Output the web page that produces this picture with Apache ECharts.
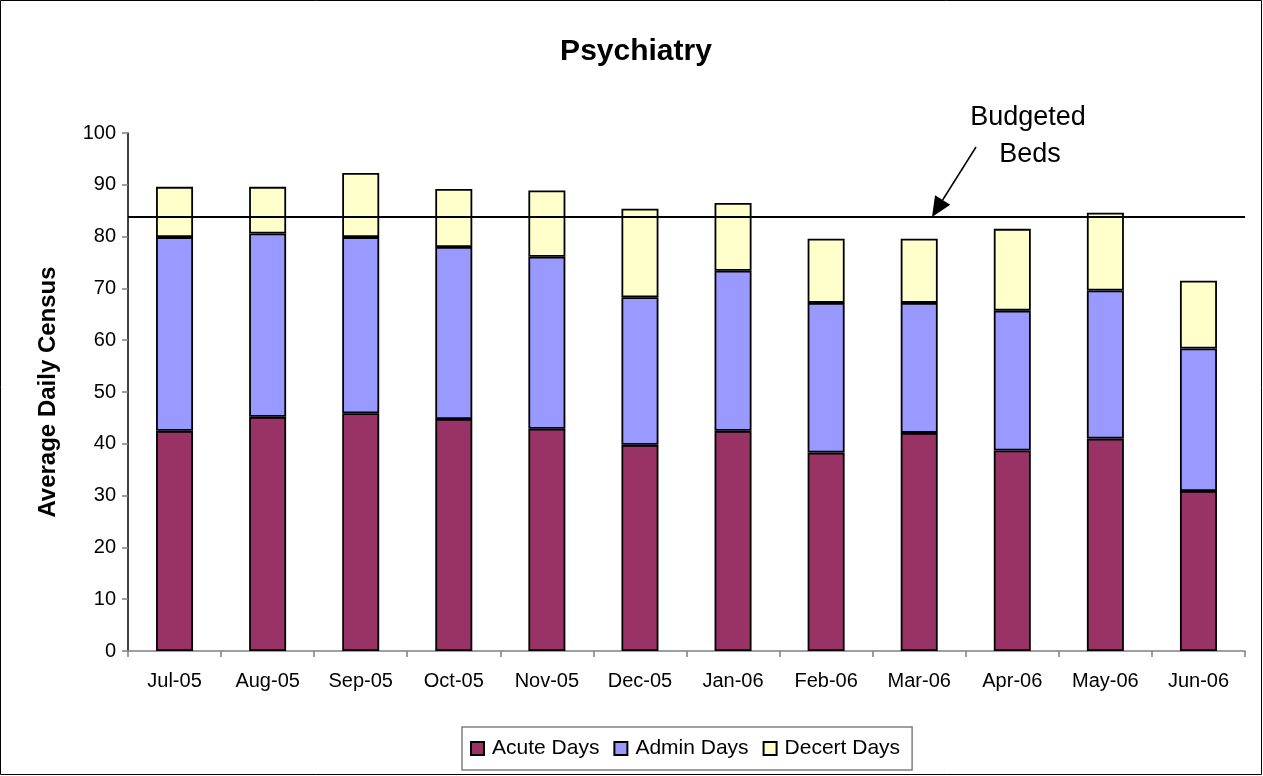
<!DOCTYPE html>
<html>
<head>
<meta charset="utf-8">
<script src="https://cdn.jsdelivr.net/npm/echarts@6/dist/echarts.min.js"></script>
<style>
html,body{margin:0;padding:0;background:#fff;}
#main{width:1263px;height:776px;}
</style>
</head>
<body>
<div id="main"></div>
<script>
const categories = ['Jul-05','Aug-05','Sep-05','Oct-05','Nov-05','Dec-05','Jan-06','Feb-06','Mar-06','Apr-06','May-06','Jun-06'];
const acuteDays  = [42.5, 45.2, 45.9, 44.8, 42.9, 39.8, 42.5, 38.3, 42.1, 38.7, 41.0, 30.9];
const adminDays  = [37.4, 35.4, 34.0, 33.2, 33.2, 28.5, 30.9, 28.9, 25.1, 27.0, 28.6, 27.5];
const decertDays = [ 9.7,  9.0, 12.4, 11.2, 12.8, 17.1, 13.1, 12.4, 12.4, 15.8, 15.0, 13.1];
const budgetedBeds = 83.8;
const seriesNames = ['Acute Days','Admin Days','Decert Days'];
const yTicks = {min: 0, max: 100, interval: 10};

const FONT = 'Liberation Sans, Arial, sans-serif';
const chart = echarts.init(document.getElementById('main'));

function barSeries(name, data, color) {
  return {
    name: name, type: 'bar', stack: 'total', data: data, barWidth: 37,
    itemStyle: {color: color, borderColor: '#000', borderWidth: 1.8},
    emphasis: {disabled: true}
  };
}

const series = [
  barSeries(seriesNames[0], acuteDays, '#993366'),
  barSeries(seriesNames[1], adminDays, '#9999FF'),
  barSeries(seriesNames[2], decertDays, '#FFFFCC')
];
series[2].markLine = {
  silent: true, symbol: ['none', 'none'], animation: false,
  label: {show: false},
  lineStyle: {color: '#000', width: 2, type: 'solid'},
  emphasis: {disabled: true},
  data: [{yAxis: budgetedBeds}]
};

const option = {
  animation: false,
  backgroundColor: '#fff',
  title: {
    text: 'Psychiatry', left: 631, textAlign: 'center', top: 32,
    textStyle: {fontFamily: FONT, fontSize: 30, fontWeight: 'bold', color: '#000'}
  },
  legend: {
    data: seriesNames, left: 462, top: 727,
    padding: [11, 12, 11, 8], itemGap: 14, itemWidth: 13, itemHeight: 13,
    borderColor: '#808080', borderWidth: 1.5,
    icon: 'rect',
    textStyle: {fontFamily: FONT, fontSize: 21, color: '#000', padding: [0, 0, 0, 3]}
  },
  grid: {left: 128, right: 18, top: 133, bottom: 125, containLabel: false},
  xAxis: {
    type: 'category', data: categories, boundaryGap: true,
    axisLine: {lineStyle: {color: '#808080', width: 1.5}},
    axisTick: {show: true, alignWithLabel: false, length: 6, lineStyle: {color: '#808080', width: 1.5}},
    axisLabel: {fontFamily: FONT, fontSize: 20, color: '#000', margin: 20, interval: 0}
  },
  yAxis: {
    type: 'value', min: yTicks.min, max: yTicks.max, interval: yTicks.interval,
    name: 'Average Daily Census', nameLocation: 'middle', nameGap: 68, nameRotate: 90,
    nameTextStyle: {fontFamily: FONT, fontSize: 24, fontWeight: 'bold', color: '#000'},
    axisLine: {show: true, lineStyle: {color: '#000', width: 1.5}},
    axisTick: {show: true, length: 6, lineStyle: {color: '#808080', width: 1.5}},
    axisLabel: {fontFamily: FONT, fontSize: 20, color: '#000', margin: 12},
    splitLine: {show: false}
  },
  series: series
};
chart.setOption(option);

// Annotation arrow, tip placed on the budget line via the y scale
const by = chart.convertToPixel({yAxisIndex: 0}, budgetedBeds);
const tip = [932, by];
const tail = [976, 147];
const dx = tip[0] - tail[0], dy = tip[1] - tail[1];
const len = Math.sqrt(dx*dx + dy*dy);
const ux = dx/len, uy = dy/len;
const headLen = 20, headW = 9;
const bx = tip[0] - ux*headLen, byy = tip[1] - uy*headLen;
const p1 = [bx - uy*headW, byy + ux*headW];
const p2 = [bx + uy*headW, byy - ux*headW];

chart.setOption({
  graphic: [
    {type: 'rect', shape: {x: 0.5, y: 0.5, width: 1261, height: 774}, style: {fill: 'none', stroke: '#000', lineWidth: 1}, silent: true, z: 100},
    {type: 'line', shape: {x1: tail[0], y1: tail[1], x2: bx, y2: byy}, style: {stroke: '#000', lineWidth: 1.5}, silent: true, z: 100},
    {type: 'polygon', shape: {points: [tip, p1, p2]}, style: {fill: '#000'}, silent: true, z: 100},
    {type: 'text', x: 1028, y: 118, style: {text: 'Budgeted', fontFamily: FONT, fontSize: 27, fill: '#000', align: 'center', verticalAlign: 'middle'}, silent: true, z: 100},
    {type: 'text', x: 1030, y: 155, style: {text: 'Beds', fontFamily: FONT, fontSize: 27, fill: '#000', align: 'center', verticalAlign: 'middle'}, silent: true, z: 100}
  ]
});
</script>
</body>
</html>
